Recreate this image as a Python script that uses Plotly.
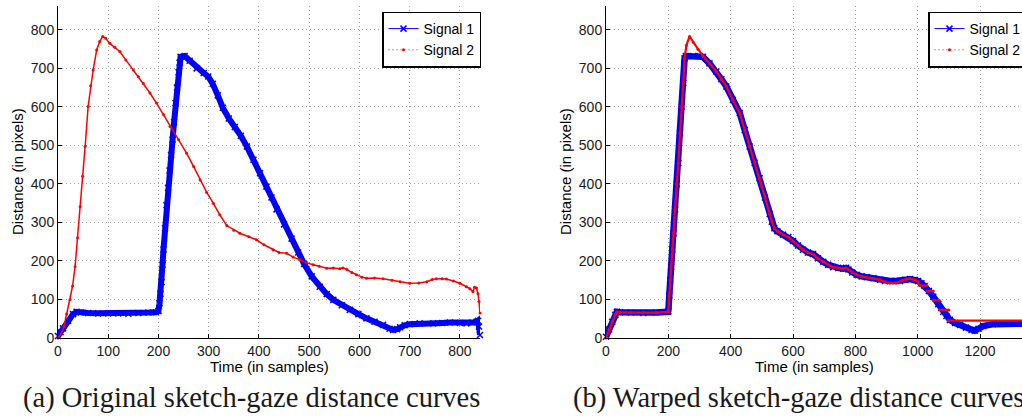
import plotly.graph_objects as go

# ---------------- data ----------------
# (a) original curves
orig_s1_t = [0, 5, 10, 20, 30, 37, 45, 60, 80, 100, 120, 140, 160, 180, 195, 200,
             202, 204, 206, 208, 210, 213, 216, 219, 222, 225, 228, 231, 234, 237, 240, 242, 244,
             252, 262, 276, 290, 299, 308, 318, 328, 340, 352, 364, 376, 389, 402, 415, 425, 435,
             450, 465, 478, 490, 505, 521, 535, 548, 565, 581, 598, 614, 630, 647, 660, 667,
             675, 681, 690, 700, 720, 747, 765, 780, 800, 813, 825, 833, 836, 838, 840]
orig_s1_d = [5, 15, 25, 45, 62, 68, 66, 65, 64, 64, 64, 63, 65, 66, 67, 70,
             90, 115, 145, 190, 230, 285, 345, 390, 435, 475, 515, 560, 610, 650, 690, 715, 730,
             732, 720, 700, 688, 679, 660, 630, 598, 570, 548, 525, 497, 463, 428, 393, 365, 334,
             295, 258, 222, 192, 160, 133, 114, 99, 85, 73, 62, 51, 42, 34, 24, 21,
             23, 28, 33, 36, 38, 38, 39, 40, 39, 38, 40, 42, 45, 30, 8]

orig_s2_t = [0, 6, 12, 17, 24, 29, 34, 39, 44, 49, 54, 60, 65, 70, 77, 83, 89,
             95, 103, 113, 123, 135, 150, 160, 170, 183, 196, 210, 223, 240, 256, 270, 283,
             296, 309, 322, 336, 350, 362, 380, 395, 410, 428, 440, 455, 468, 482, 495, 508,
             520, 535, 548, 561, 567, 575, 585, 594, 605, 614, 630, 647, 665, 681, 700, 718,
             734, 745, 753, 765, 773, 787, 800, 813, 820, 826, 829, 833, 836, 838, 840]
orig_s2_d = [0, 10, 30, 62, 99, 135, 185, 260, 341, 420, 497, 601, 655, 696, 748, 770, 783,
             778, 765, 755, 744, 722, 696, 678, 661, 636, 610, 580, 549, 515, 480, 445, 410,
             378, 350, 320, 292, 280, 272, 263, 255, 242, 229, 222, 220, 210, 203, 195, 190,
             186, 181, 182, 180, 182, 178, 170, 164, 158, 155, 156, 154, 150, 146, 142, 143,
             146, 152, 154, 154, 153, 148, 142, 133, 128, 120, 132, 130, 115, 95, 65]

# (b) warped curves
warp_s1_t = [0, 10, 20, 30, 35, 45, 80, 120, 160, 199,
             200, 203, 206, 209, 213, 217, 222, 227, 232, 237, 243, 248, 252,
             256, 280, 300, 311, 332, 354, 370, 386, 407, 429, 445, 461, 477, 493, 510,
             525, 532, 540, 550, 568, 585, 600, 616, 632, 648, 664, 680, 697, 713, 729,
             745, 761, 770, 778, 790, 804, 820, 836, 858, 879, 895, 911, 930, 943, 960,
             975, 990, 1001, 1012, 1022, 1036, 1050, 1066, 1082, 1092, 1103, 1120, 1136,
             1155, 1173, 1183, 1195, 1210, 1242, 1280, 1335]
warp_s1_d = [3, 22, 42, 60, 68, 67, 66, 65, 66, 68,
             70, 110, 150, 185, 230, 272, 334, 400, 454, 532, 601, 662, 726,
             732, 732, 732, 730, 713, 692, 672, 653, 618, 584, 540, 497, 455, 415, 365,
             322, 302, 285, 277, 268, 262, 252, 240, 229, 222, 218, 207, 198, 190, 184,
             182, 180, 182, 178, 170, 164, 160, 158, 155, 151, 148, 148, 148, 148, 151,
             153, 151, 148, 142, 135, 122, 107, 88, 68, 57, 47, 39, 34,
             27, 21, 19, 24, 31, 36, 38, 37]

warp_s2_t = [0, 10, 20, 30, 35, 45, 80, 120, 160, 199,
             200, 203, 206, 209, 213, 217, 222, 227, 232, 237, 243, 248, 252,
             258, 268, 280, 295, 311, 332, 354, 370, 386, 407, 429, 445, 461, 477, 493, 510,
             525, 532, 540, 550, 568, 585, 600, 616, 632, 648, 664, 680, 697, 713, 729,
             745, 761, 770, 778, 790, 804, 820, 836, 858, 879, 895, 911, 930, 950, 964,
             975, 990, 1001, 1007, 1029, None, 1030, 1050, None, 1050, 1069, None,
             1069, 1100, None, 1098, 1340]
warp_s2_d = [0, 22, 42, 62, 68, 67, 66, 66, 66, 68,
             70, 110, 150, 185, 230, 272, 334, 400, 454, 532, 601, 662, 726,
             760, 783, 768, 750, 732, 713, 692, 672, 653, 618, 584, 540, 497, 455, 415, 365,
             322, 302, 285, 277, 268, 262, 252, 240, 229, 222, 218, 207, 198, 190, 184,
             182, 180, 182, 178, 170, 164, 160, 158, 155, 151, 146, 143, 143, 150, 153,
             154, 151, 146, 136, 136, None, 122, 122, None, 98, 98, None,
             73, 73, None, 45, 45]

x_ticks_a = [0, 100, 200, 300, 400, 500, 600, 700, 800]
x_ticks_b = [0, 200, 400, 600, 800, 1000, 1200]
y_ticks = [0, 100, 200, 300, 400, 500, 600, 700, 800]
series_names = ["Signal 1", "Signal 2"]
captions = ["(a) Original sketch-gaze distance curves", "(b) Warped sketch-gaze distance curves"]
x_title = "Time (in samples)"
y_title = "Distance (in pixels)"

# ---------------- figure ----------------
W, H = 1022, 419
BLUE = "rgb(0,0,255)"
RED = "rgb(255,0,0)"
SANS = "Arial, Liberation Sans, Helvetica, sans-serif"

def px_x(p):
    return p / W

def px_y(p):
    return (H - p) / H

fig = go.Figure()

def add_pair(t1, d1, t2, d2, xa, ya, band_w, red_w):
    fig.add_trace(go.Scatter(x=t1, y=d1, xaxis=xa, yaxis=ya, mode="lines+markers",
                             line=dict(color=BLUE, width=band_w),
                             marker=dict(symbol="x-thin", size=6, color=BLUE,
                                         line=dict(color=BLUE, width=1.5)),
                             showlegend=False, cliponaxis=False, hoverinfo="skip"))
    fig.add_trace(go.Scatter(x=t2, y=d2, xaxis=xa, yaxis=ya, mode="lines+markers",
                             line=dict(color=RED, width=red_w),
                             marker=dict(symbol="circle", size=3, color=RED),
                             showlegend=False, cliponaxis=False, hoverinfo="skip",
                             connectgaps=False))

add_pair(orig_s1_t, orig_s1_d, orig_s2_t, orig_s2_d, "x", "y", 6, 1.5)
add_pair(warp_s1_t, warp_s1_d, warp_s2_t, warp_s2_d, "x2", "y2", 6.5, 2.2)

# legend-only entries
for lg, xa, ya in (("legend", "x", "y"), ("legend2", "x2", "y2")):
    fig.add_trace(go.Scatter(x=[None], y=[None], xaxis=xa, yaxis=ya, name=series_names[0],
                             mode="lines+markers", legend=lg,
                             line=dict(color=BLUE, width=1),
                             marker=dict(symbol="x-thin", size=6, color=BLUE,
                                         line=dict(color=BLUE, width=1.5))))
    fig.add_trace(go.Scatter(x=[None], y=[None], xaxis=xa, yaxis=ya, name=series_names[1],
                             mode="lines+markers", legend=lg,
                             line=dict(color=RED, width=1, dash="1px,3px"),
                             marker=dict(symbol="circle", size=3, color=RED)))

axis_common = dict(showline=True, linecolor="black", linewidth=1, mirror=False,
                   ticks="inside", ticklen=4, tickcolor="black", tickwidth=1,
                   showgrid=True, gridcolor="#a0a0a0", gridwidth=1, griddash="1px,3px",
                   zeroline=False, tickfont=dict(family=SANS, size=14, color="#1a1a1a"),
                   fixedrange=True)

y_dom = [px_y(338), px_y(6)]
fig.update_layout(
    width=W, height=H,
    margin=dict(l=0, r=0, t=0, b=0, autoexpand=False),
    paper_bgcolor="white", plot_bgcolor="white",
    xaxis=dict(domain=[px_x(58), px_x(480)], range=[0, 840], tickvals=x_ticks_a,
               anchor="y", **axis_common),
    yaxis=dict(domain=y_dom, range=[0, 862], tickvals=y_ticks, anchor="x", **axis_common),
    xaxis2=dict(domain=[px_x(606), 1.0], range=[0, 416 / 0.3117], tickvals=x_ticks_b,
                anchor="y2", **axis_common),
    yaxis2=dict(domain=y_dom, range=[0, 862], tickvals=y_ticks, anchor="x2", **axis_common),
    legend=dict(x=px_x(382), y=px_y(11.5), xanchor="left", yanchor="top",
                bgcolor="white", bordercolor="black", borderwidth=1.5,
                font=dict(family=SANS, size=14, color="black"), tracegroupgap=0),
    legend2=dict(x=px_x(928), y=px_y(11.5), xanchor="left", yanchor="top",
                 bgcolor="white", bordercolor="black", borderwidth=1.5,
                 font=dict(family=SANS, size=14, color="black"), tracegroupgap=0),
    showlegend=True,
)

ann = []
for cx in (269, 814):
    ann.append(dict(text=x_title, x=px_x(cx), y=px_y(366), xref="paper", yref="paper",
                    xanchor="center", yanchor="middle", showarrow=False,
                    font=dict(family=SANS, size=15, color="black")))
for cx in (17, 565):
    ann.append(dict(text=y_title, x=px_x(cx), y=px_y(172), xref="paper", yref="paper",
                    xanchor="center", yanchor="middle", showarrow=False, textangle=-90,
                    font=dict(family=SANS, size=15, color="black")))
for lx, cap in zip((21, 571), captions):
    ann.append(dict(text=cap, x=px_x(lx), y=px_y(398), xref="paper", yref="paper",
                    xanchor="left", yanchor="middle", showarrow=False,
                    font=dict(family="Liberation Serif, DejaVu Serif, serif", size=28.5,
                              color="#1a1a1a")))
fig.update_layout(annotations=ann)

fig.write_html("out.html")
